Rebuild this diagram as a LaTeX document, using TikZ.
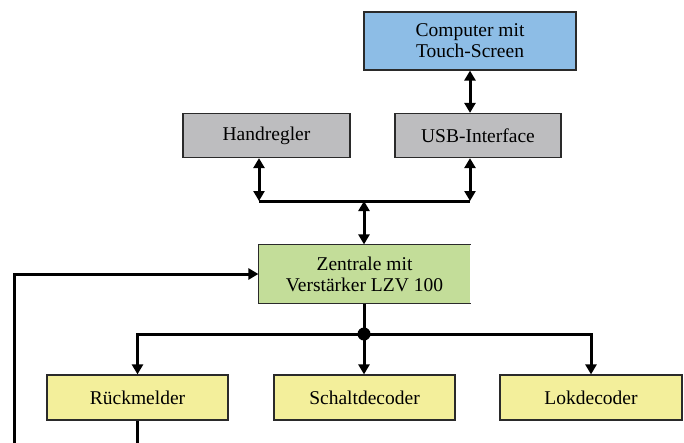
\documentclass[tikz,border=0pt]{standalone}
\usepackage{fontspec}
\setmainfont{Liberation Serif}
\usetikzlibrary{arrows.meta}
\definecolor{cblue}{HTML}{8DBDE6}
\definecolor{cgray}{HTML}{BDBDBF}
\definecolor{cgreen}{HTML}{C3DD99}
\definecolor{cyellow}{HTML}{F3EF9B}
\definecolor{cborder}{HTML}{2A2A2A}
\tikzset{
  box/.style={draw=cborder, line width=1.2pt, inner sep=0pt, align=center,
    font=\fontsize{19.5}{21}\selectfont, text=black},
  conn/.style={line width=3pt, draw=black},
  tip/.tip={Triangle[length=10pt,width=11pt]},
  uni/.style={conn, -tip},
  bi/.style={conn, tip-tip},
}
\begin{document}
\begin{tikzpicture}[x=1pt,y=-1pt]
\useasboundingbox[fill=white] (0,0) rectangle (684,442);
% boxes
\node[box, fill=cblue, minimum width=212pt, minimum height=58pt] (comp) at (470,41) {Computer mit\\Touch-Screen};
\node[box, fill=cgray, minimum width=167pt, minimum height=44pt] (hand) at (266.5,135.5) {Handregler};
\node[box, fill=cgray, minimum width=166pt, minimum height=44pt] (usb) at (478,135.5) {USB-Interface};
\node[box, draw=none, fill=cgreen, minimum width=211pt, minimum height=58pt] (zen) at (364.5,274) {Zentrale mit\\Verstärker LZV 100};
\draw[cborder, line width=1.2pt] (zen.north east) -- (zen.north west) -- (zen.south west) -- (zen.south east);
\node[box, fill=cyellow, minimum width=181pt, minimum height=45pt] (rm) at (137.5,397.5) {Rückmelder};
\node[box, fill=cyellow, minimum width=181pt, minimum height=45pt] (sd) at (364.5,397.5) {Schaltdecoder};
\node[box, fill=cyellow, minimum width=182pt, minimum height=45pt] (lk) at (591,397.5) {Lokdecoder};
% upper bus
\coordinate (b1) at (259,201);
\coordinate (b2) at (470,201);
\coordinate (bm) at (364,201);
\draw[conn] (b1) -- (b2);
\draw[bi] (comp.south -| b2) -- (usb.north -| b2);
\draw[bi] (hand.south -| b1) -- (b1);
\draw[bi] (usb.south -| b2) -- (b2);
\draw[bi] (bm) -- (zen.north -| bm);
% lower bus
\coordinate (dot) at (364,334);
\draw[conn] (zen.south -| dot) -- (dot);
\draw[uni] (dot) -| (rm.north);
\draw[uni] (dot) -- (sd.north -| dot);
\draw[uni] (dot) -| (lk.north);
\fill (dot) circle (6.5);
% feedback
\coordinate (fb) at (14,445);
\draw[conn] (rm.south) -- (rm.south |- fb);
\draw[uni] (fb) |- (zen.west);
\end{tikzpicture}
\end{document}
